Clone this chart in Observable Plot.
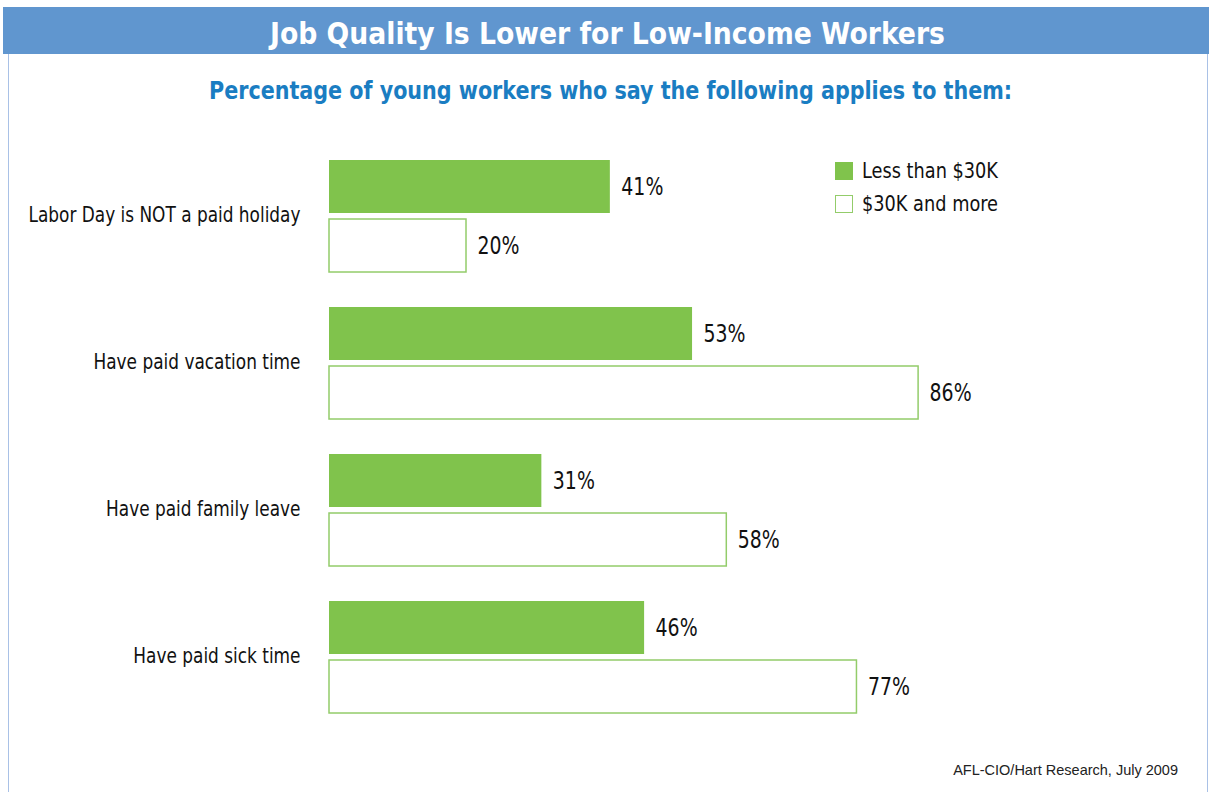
<!DOCTYPE html>
<html>
<head>
<meta charset="utf-8">
<script src="https://cdn.jsdelivr.net/npm/d3@7"></script>
<script src="https://cdn.jsdelivr.net/npm/@observablehq/plot@0.6"></script>
<style>
  html, body { margin: 0; padding: 0; background: #fff; }
  body { width: 1209px; height: 792px; position: relative; overflow: hidden;
         font-family: "DejaVu Sans Condensed", "Roboto", sans-serif; }
  .frame { position: absolute; left: 8px; top: 54px; width: 1200px; height: 740px;
           border-left: 1.5px solid #a9c1e6; border-right: 1.5px solid #a9c1e6; box-sizing: border-box; }
  .header { position: absolute; left: 3px; top: 7px; width: 1206px; height: 47px; background: #6096cf; }
  .fit { position: absolute; white-space: nowrap; transform-origin: 0 0; }
  #title { color: #fff; font-weight: bold; font-size: 31px; top: 15px; }
  #subtitle { color: #1a7dc2; font-weight: bold; font-size: 25px; top: 76px; }
  #chart { position: absolute; left: 0; top: 120px; }
  .legend { position: absolute; left: 835px; top: 154px; font-size: 21px; color: #111; }
  .legend .row { display: flex; align-items: center; height: 33px; }
  .legend .sw { width: 18px; height: 18px; box-sizing: border-box; margin-right: 9px; flex: none; }
  .legend span { display: inline-block; white-space: nowrap; transform-origin: 0 50%; }
  .caption { position: absolute; right: 31px; top: 762px; font-family: "Liberation Sans", "Roboto", sans-serif;
             font-size: 14.5px; color: #222; }
</style>
</head>
<body>
<div class="frame"></div>
<div class="header"></div>
<div class="fit" id="title">Job Quality Is Lower for Low-Income Workers</div>
<div class="fit" id="subtitle">Percentage of young workers who say the following applies to them:</div>
<div id="chart"></div>
<div class="legend" id="legend"></div>
<div class="caption">AFL-CIO/Hart Research, July 2009</div>
<script>
const categories = ["Labor Day is NOT a paid holiday", "Have paid vacation time", "Have paid family leave", "Have paid sick time"];
const seriesNames = ["Less than $30K", "$30K and more"];
const lowIncome = [41, 53, 31, 46];
const highIncome = [20, 86, 58, 77];
const green = "#80c34c";
const outline = "#93cc6a";

const data = [];
categories.forEach((c, i) => {
  data.push({category: c, series: seriesNames[0], value: lowIncome[i]});
  data.push({category: c, series: seriesNames[1], value: highIncome[i]});
});

const font = '"DejaVu Sans Condensed", Roboto, sans-serif';

const chart = Plot.plot({
  width: 1209,
  height: 672,
  marginTop: 40,
  marginBottom: 79,
  marginLeft: 329,
  marginRight: 195,
  style: {fontFamily: font, background: "transparent"},
  x: {domain: [0, 100], axis: null},
  y: {domain: seriesNames, axis: null, paddingInner: 6 / 59, paddingOuter: 0},
  fy: {domain: categories, paddingInner: 35 / 147, paddingOuter: 0, label: null},
  marks: [
    Plot.axisFy({anchor: "left", tickSize: 0, tickPadding: 29, dy: -2, fontSize: 22, fill: "#111", label: null}),
    Plot.barX(data, {
      x: "value", y: "series", fy: "category",
      fill: d => d.series === seriesNames[0] ? green : "#fff",
      stroke: d => d.series === seriesNames[0] ? "none" : outline,
      strokeWidth: 1.5
    }),
    Plot.text(data, {
      x: "value", y: "series", fy: "category",
      text: d => d.value + "%",
      textAnchor: "start", dx: 11, fontSize: 24, fill: "#111"
    })
  ]
});
document.getElementById("chart").appendChild(chart);

// Condense SVG text to mimic the narrow typeface of the original
function squeeze(texts, refText, targetWidth) {
  const ref = texts.find(t => t.textContent === refText);
  if (!ref) return;
  const k = targetWidth / ref.getComputedTextLength();
  texts.forEach(t => {
    const w = t.getComputedTextLength();
    t.setAttribute("textLength", w * k);
    t.setAttribute("lengthAdjust", "spacingAndGlyphs");
  });
}
const allTexts = Array.from(chart.querySelectorAll("text"));
squeeze(allTexts.filter(t => categories.includes(t.textContent)), categories[0], 272);
squeeze(allTexts.filter(t => /%$/.test(t.textContent)), "41%", 42);

// Fit HTML headings to the original widths
function fitCenter(id, target, cx) {
  const el = document.getElementById(id);
  const w = el.getBoundingClientRect().width;
  const k = target / w;
  el.style.transform = `scaleX(${k})`;
  el.style.left = (cx - target / 2) + "px";
}
fitCenter("title", 675, 607);
fitCenter("subtitle", 803, 610);

const legend = document.getElementById("legend");
seriesNames.forEach((s, i) => {
  const row = document.createElement("div");
  row.className = "row";
  const sw = document.createElement("div");
  sw.className = "sw";
  if (i === 0) sw.style.background = green; else sw.style.border = "1.5px solid " + outline;
  row.appendChild(sw);
  const t = document.createElement("span");
  t.textContent = s;
  row.appendChild(t);
  legend.appendChild(row);
});
const spans = legend.querySelectorAll("span");
const kl = 136 / spans[0].getBoundingClientRect().width;
spans.forEach(sp => sp.style.transform = `scaleX(${kl})`);
</script>
</body>
</html>
